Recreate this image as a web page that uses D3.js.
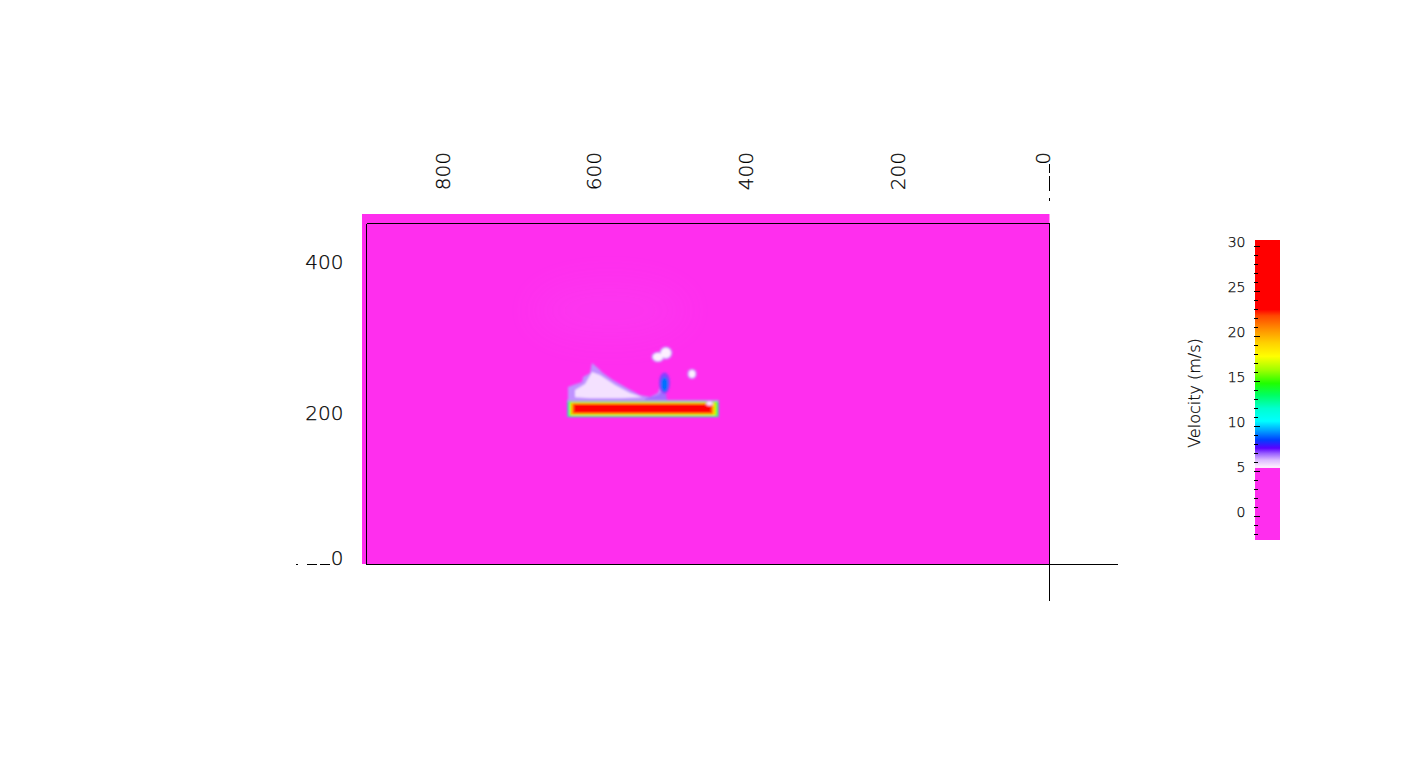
<!DOCTYPE html>
<html><head><meta charset="utf-8">
<script src="https://cdn.jsdelivr.net/npm/d3@7"></script>
<style>
body{margin:0;background:#fff;}
svg{display:block;}
text{font-family:"DejaVu Sans",sans-serif;font-weight:200;fill:#000;stroke:#000;stroke-width:0.25;}
</style>
</head><body>
<svg id="chart" width="1411" height="778"></svg>
<script>
// ---------- data ----------
const xTicks = [0, 200, 400, 600, 800];
const yTicks = [0, 200, 400];
const cbMajorTicks = [0, 5, 10, 15, 20, 25, 30];
const cbMinorTicks = [-2,-1,1,2,3,4,6,7,8,9,11,12,13,14,16,17,18,19,21,22,23,24,26,27,28,29];
const cbTitle = "Velocity (m/s)";
const frameX = [0, 900];
const frameY = [0, 452];
const fieldX = [0, 906];
const fieldY = [0, 464];
const backgroundValue = 1;
// colour map (value -> colour)
const stopValues = [-3, 5.35, 5.45, 6.3, 7.0, 7.6, 8.5, 9.6, 10.6, 12.0, 13.5, 14.8, 16.3, 17.8, 19.3, 20.8, 22.3, 23.0, 31];
const stopColors = ["#ff2eee","#ff2eee","#fff2ff","#dab8ff","#9a60ff","#5a00ff","#0040ff","#00a8ff","#00ffff","#00ffd0","#00ff60","#20ff00","#a0ff00","#ffff00","#ffd000","#ff9000","#ff4800","#ff0000","#ff0000"];
// faint halo above the plate
const halo = {cx:579, cy:336, rx:105, ry:40, v:6.3};
// plate (nested layers): x0,x1,y0,y1 in domain units, v velocity
const plateLayers = [
  {x0:436.2, x1:635.1, y0:194.9, y1:217.4, v:12.5},
  {x0:437.0, x1:634.0, y0:214.9, y1:217.4, v:6.6},
  {x0:437.6, x1:633.1, y0:196.2, y1:215.4, v:15.5},
  {x0:440.1, x1:631.2, y0:197.5, y1:214.1, v:18.5},
  {x0:443.0, x1:629.5, y0:198.6, y1:213.0, v:21.0},
  {x0:445.5, x1:627.0, y0:200.3, y1:211.8, v:27.0}
];
// wake plume polygons
const plumeOuter = [[634.5,234.6],[627.9,237.3],[616.0,241.2],[614.7,247.9],[605.5,253.2],[602.9,266.4],[595.0,259.8],[588.4,253.2],[575.2,243.9],[556.7,233.3],[539.6,224.0],[526.5,221.4],[516.0,226.7],[513.3,234.6],[506.7,220.0],[504.1,214.7],[634.5,214.7]];
const plumeOuterValue = 6.6;
const plumeViolet = [[533.0,219.0],[515.8,224.3],[511.6,228.6],[505.7,226.9],[503.4,214.4],[533.0,214.4]];
const plumeVioletValue = 6.9;
const plumeInner = [[625.2,230.6],[612.0,238.6],[602.9,254.5],[592.4,250.5],[572.6,237.3],[552.8,226.7],[536.0,221.0],[566.0,219.7],[605.5,219.7],[625.2,221.0]];
const plumeInnerValue = 5.7;
// blobs: cx, cy, rx, ry (domain units), v
const blobsBefore = [
  {cx:516.0, cy:274.4, rx:8.5, ry:7.0, v:6.5},
  {cx:505.5, cy:279.7, rx:8.5, ry:8.5, v:6.5},
  {cx:516.0, cy:274.4, rx:6.6, ry:5.3, v:5.5},
  {cx:505.5, cy:279.7, rx:6.6, ry:6.6, v:5.5},
  {cx:471.1, cy:251.9, rx:6.2, ry:6.8, v:6.5},
  {cx:471.1, cy:251.9, rx:4.2, ry:4.8, v:5.5},
  {cx:507.3, cy:240.0, rx:7.2, ry:13.9, v:7.2},
  {cx:507.3, cy:238.0, rx:4.8, ry:10.0, v:9.0}
];
const blobsAfter = [
  {cx:448.0, cy:212.8, rx:4.5, ry:3.2, v:6.2},
  {cx:448.0, cy:212.8, rx:3.0, ry:2.2, v:5.5}
];

// ---------- scales ----------
const svg = d3.select("#chart");
const x = d3.scaleLinear().domain(frameX).range([1049.5, 366.5]);
const y = d3.scaleLinear().domain(frameY).range([564, 223]);
const color = d3.scaleLinear().domain(stopValues).range(stopColors).clamp(true);
const cbY = d3.scaleLinear().domain([0, 30]).range([516.5, 246.5]);

const defs = svg.append("defs");
const mkBlur = (id, s) => defs.append("filter").attr("id", id)
  .attr("x","-50%").attr("y","-50%").attr("width","200%").attr("height","200%")
  .append("feGaussianBlur").attr("stdDeviation", s);
mkBlur("soft", 0.8); mkBlur("softer", 1.2); mkBlur("haze", 18);
defs.append("clipPath").attr("id","fieldClip").append("rect")
  .attr("x", x(fieldX[1])).attr("y", y(fieldY[1]))
  .attr("width", x(fieldX[0]) - x(fieldX[1])).attr("height", y(fieldY[0]) - y(fieldY[1]));

// ---------- field ----------
const field = svg.append("g").attr("clip-path","url(#fieldClip)");
field.append("rect")
  .attr("x", Math.round(x(fieldX[1]))).attr("y", Math.round(y(fieldY[1])))
  .attr("width", Math.round(x(fieldX[0])) - Math.round(x(fieldX[1])))
  .attr("height", Math.round(y(fieldY[0])) - Math.round(y(fieldY[1])))
  .attr("fill", color(backgroundValue));
field.append("ellipse").attr("filter","url(#haze)")
  .attr("cx", x(halo.cx)).attr("cy", y(halo.cy))
  .attr("rx", Math.abs(x(halo.rx) - x(0))).attr("ry", Math.abs(y(halo.ry) - y(0)))
  .attr("fill", color(halo.v)).attr("opacity", 0.05);

const poly = d3.line().x(d => x(d[0])).y(d => y(d[1])).curve(d3.curveLinearClosed);
const plumeG = field.append("g").attr("filter","url(#softer)");
plumeG.append("path").attr("d", poly(plumeOuter)).attr("fill", color(plumeOuterValue));
plumeG.append("path").attr("d", poly(plumeViolet)).attr("fill", color(plumeVioletValue));
plumeG.append("path").attr("d", poly(plumeInner)).attr("fill", color(plumeInnerValue));

const blobG = field.append("g").attr("filter","url(#soft)");
blobG.selectAll("ellipse").data(blobsBefore).join("ellipse")
  .attr("cx", d => x(d.cx)).attr("cy", d => y(d.cy))
  .attr("rx", d => Math.abs(x(d.rx) - x(0))).attr("ry", d => Math.abs(y(d.ry) - y(0)))
  .attr("fill", d => color(d.v));

const plateG = field.append("g").attr("filter","url(#soft)");
plateG.selectAll("rect").data(plateLayers).join("rect")
  .attr("x", d => x(d.x1)).attr("y", d => y(d.y1))
  .attr("width", d => x(d.x0) - x(d.x1)).attr("height", d => y(d.y0) - y(d.y1))
  .attr("fill", d => color(d.v));
plateG.selectAll("ellipse").data(blobsAfter).join("ellipse")
  .attr("cx", d => x(d.cx)).attr("cy", d => y(d.cy))
  .attr("rx", d => Math.abs(x(d.rx) - x(0))).attr("ry", d => Math.abs(y(d.ry) - y(0)))
  .attr("fill", d => color(d.v));

// ---------- frame & axes ----------
const px = v => Math.floor(v) + 0.5;
const L = svg.append("g").attr("stroke","#000").attr("stroke-width",1).attr("fill","none").attr("shape-rendering","crispEdges");
const xl = px(x(frameX[1])), xr = px(x(frameX[0])), yt = px(y(frameY[1])), yb = px(y(frameY[0]));
L.append("line").attr("x1", xl).attr("x2", xr).attr("y1", yt).attr("y2", yt);
L.append("line").attr("x1", xl).attr("x2", xl).attr("y1", yt).attr("y2", yb);
L.append("line").attr("x1", xl).attr("x2", xr + 68).attr("y1", yb).attr("y2", yb);
L.append("line").attr("x1", xr).attr("x2", xr).attr("y1", yt).attr("y2", yb + 36);
// dashed stubs next to the zero labels
L.append("line").attr("x1", xr).attr("x2", xr).attr("y1", yt - 60).attr("y2", yt - 23)
  .attr("stroke-dasharray","9,3,15,7,3");
L.append("line").attr("x1", xl - 71).attr("x2", xl - 37).attr("y1", yb).attr("y2", yb)
  .attr("stroke-dasharray","2,9,10,3,10");

// top axis labels (rotated)
svg.append("g").selectAll("text").data(xTicks).join("text")
  .attr("transform", d => `translate(${x(d) + (d === 0 ? 0 : 7.3)},152) rotate(-90)`)
  .attr("text-anchor","end").attr("font-size", 20)
  .text(d => d);
// left axis labels
svg.append("g").selectAll("text").data(yTicks).join("text")
  .attr("x", 343.5).attr("y", d => y(d) + (d === 0 ? 1 : 7.2))
  .attr("text-anchor","end").attr("font-size", 20)
  .text(d => d);

// ---------- colour bar ----------
const cbX0 = 1255, cbX1 = 1280, cbTop = 240, cbBot = 540;
const grad = defs.append("linearGradient").attr("id","cbGrad").attr("gradientUnits","userSpaceOnUse")
  .attr("x1",0).attr("x2",0).attr("y1", cbY(stopValues[0])).attr("y2", cbY(stopValues[stopValues.length-1]));
const v0 = stopValues[0], v1 = stopValues[stopValues.length-1];
grad.selectAll("stop").data(stopValues).join("stop")
  .attr("offset", d => (d - v0) / (v1 - v0))
  .attr("stop-color", (d,i) => stopColors[i]);
svg.append("rect").attr("x", cbX0).attr("y", cbTop).attr("width", cbX1 - cbX0).attr("height", cbBot - cbTop)
  .attr("fill","url(#cbGrad)");
const T = svg.append("g").attr("stroke","#000").attr("stroke-width",1).attr("shape-rendering","crispEdges");
T.selectAll("line.maj").data(cbMajorTicks).join("line").attr("class","maj")
  .attr("x1", cbX0 - 1).attr("x2", cbX0 + 5).attr("y1", d => px(cbY(d))).attr("y2", d => px(cbY(d)));
T.selectAll("line.min").data(cbMinorTicks).join("line").attr("class","min")
  .attr("x1", cbX0 - 1).attr("x2", cbX0 + 3).attr("y1", d => px(cbY(d))).attr("y2", d => px(cbY(d)));
svg.append("g").selectAll("text").data(cbMajorTicks).join("text")
  .attr("x", 1245.5).attr("y", d => cbY(d) + 0.5)
  .attr("text-anchor","end").attr("font-size", 14)
  .text(d => d);
svg.append("text").attr("transform","translate(1200,393) rotate(-90)")
  .attr("text-anchor","middle").attr("font-size", 16).text(cbTitle);
</script>
</body></html>
